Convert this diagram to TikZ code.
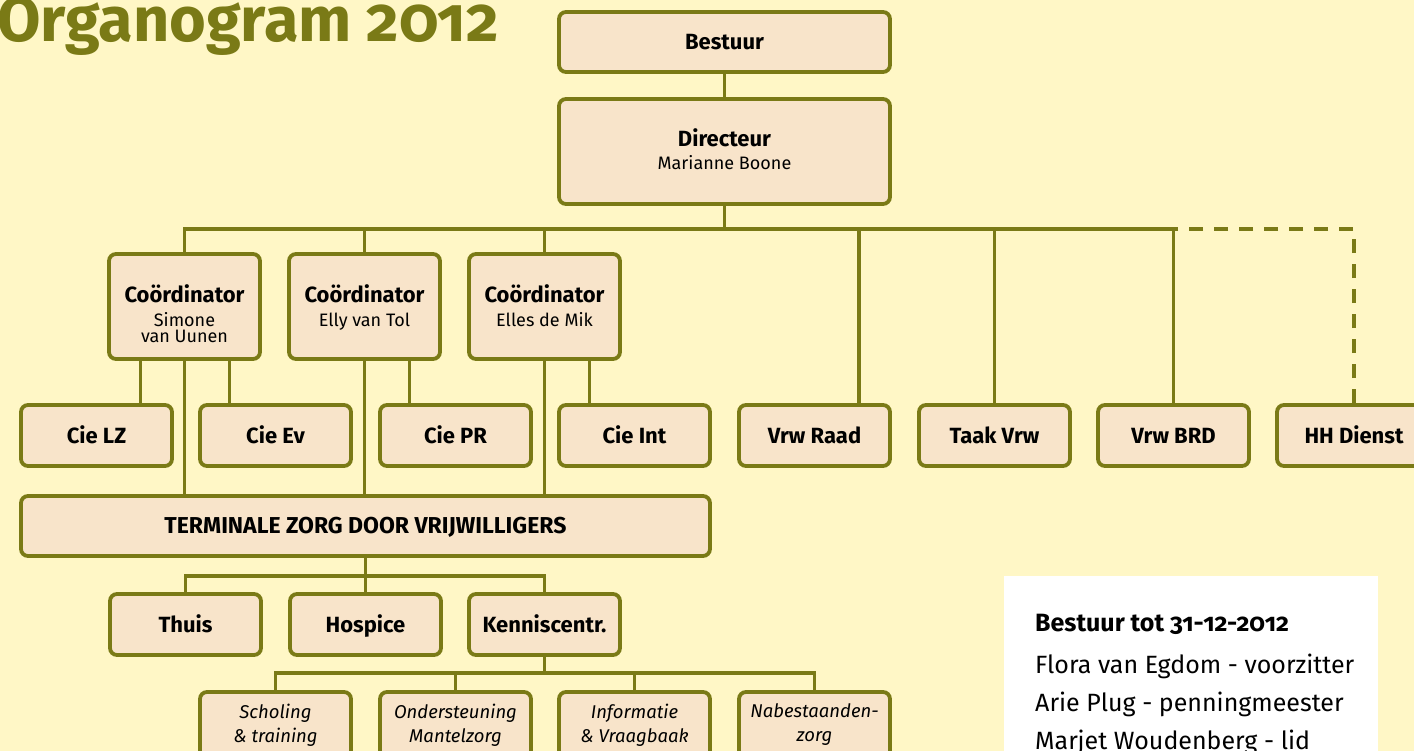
\documentclass[tikz,border=0pt]{standalone}
\usepackage{fontspec}
\setmainfont{Fira Sans}
\definecolor{bg}{HTML}{FFF7C6}
\definecolor{boxfill}{HTML}{F8E4CA}
\definecolor{olive}{HTML}{7A7A16}
\begin{document}
\begin{tikzpicture}[x=1pt,y=-1pt,
  box/.style={draw=olive, fill=boxfill, line width=3.8pt, rounded corners=7pt,
    minimum width=151pt, minimum height=61pt, inner sep=0pt,
    text height=19pt, text depth=4pt,
    font=\bfseries\fontsize{22}{24}\selectfont},
  conn/.style={draw=olive, line width=3.8pt},
  ital/.style={font=\itshape\fontsize{18.5}{24}\selectfont, align=center, inner sep=0pt},
  ctext/.style={anchor=north, align=center, inner sep=0pt, font=\fontsize{18}{16}\selectfont}]
\clip (0,0) rectangle (1414,751);
\fill[bg] (0,0) rectangle (1414,751);

% title
\node[anchor=base west, inner sep=0pt, text=olive, font=\bfseries\fontsize{63}{64}\selectfont\addfontfeatures{Numbers=OldStyle}] (title) at (-3,42) {Organogram 2012};

% top
\node[box, minimum width=331pt, minimum height=60pt] (bestuur) at (724.5,42) {Bestuur};
\node[box, minimum width=331pt, minimum height=105pt] (dir) at (724.5,151.5) {};
\node[anchor=north, align=center, inner sep=0pt, font=\fontsize{18}{23}\selectfont] (dirt) at (724.5,128) {{\bfseries\fontsize{22}{24}\selectfont Directeur}\\Marianne Boone};

% coordinators
\node[box, minimum height=105pt] (c1) at (184.5,306.5) {};
\node[box, minimum height=105pt] (c2) at (364.5,306.5) {};
\node[box, minimum height=105pt] (c3) at (544.5,306.5) {};
\node[ctext] (c1t) at (184.5,284) {{\bfseries\fontsize{22}{24}\selectfont Coördinator}\\[8pt]Simone\\van Uunen};
\node[ctext] (c2t) at (364.5,284) {{\bfseries\fontsize{22}{24}\selectfont Coördinator}\\[8pt]Elly van Tol};
\node[ctext] (c3t) at (544.5,284) {{\bfseries\fontsize{22}{24}\selectfont Coördinator}\\[8pt]Elles de Mik};

% cie row
\node[box] (lz) at (96.5,435.5) {Cie LZ};
\node[box] (ev) at (275.5,435.5) {Cie Ev};
\node[box] (pr) at (455.5,435.5) {Cie PR};
\node[box] (int) at (634.5,435.5) {Cie Int};
\node[box] (raad) at (814.5,435.5) {Vrw Raad};
\node[box] (taak) at (994.5,435.5) {Taak Vrw};
\node[box] (brd) at (1173.5,435.5) {Vrw BRD};
\node[box, minimum width=154pt] (hh) at (1354,435.5) {HH Dienst};

% terminale zorg
\node[box, minimum width=689pt, minimum height=60pt, font=\bfseries\fontsize{23}{24}\selectfont] (tz) at (365.5,526) {TERMINALE ZORG DOOR VRIJWILLIGERS};

\node[box] (thuis) at (185.5,624.5) {Thuis};
\node[box] (hosp) at (365.5,624.5) {Hospice};
\node[box] (kc) at (544.5,624.5) {Kenniscentr.};

% bottom row
\node[box, minimum height=70pt] (sch) at (275.5,727) {};
\node[box, minimum height=70pt] (ond) at (455.5,727) {};
\node[box, minimum height=70pt] (inf) at (634.5,727) {};
\node[box, minimum height=70pt] (nab) at (814.5,727) {};
\node[ital] (scht) at (275.5,725) {Scholing\\\& training};
\node[ital] (ondt) at (455.5,725) {Ondersteuning\\Mantelzorg};
\node[ital] (inft) at (634.5,725) {Informatie\\\& Vraagbaak};
\node[ital] (nabt) at (814.5,725) {Nabestaanden-\\zorg};

% connectors
\coordinate (bus) at (724.5,229);
\coordinate (bus2) at (365.5,576);
\coordinate (bus3) at (544.5,673);
\draw[conn] (bestuur.south) -- (dir.north);
\draw[conn] (dir.south) -- (bus);
\draw[conn] (c1.north) |- (bus);
\draw[conn] (c2.north) |- (bus);
\draw[conn] (c3.north) |- (bus);
\draw[conn] ([xshift=44.5pt]raad.north) |- (bus);
\draw[conn] (taak.north) |- (bus);
\draw[conn] (brd.north) |- (bus);
\draw[conn, dash pattern=on 14pt off 11pt] (hh.north) |- (brd.north |- bus);

\draw[conn] ([xshift=-44pt]c1.south) -- ([xshift=-44pt]c1.south |- lz.north);
\draw[conn] ([xshift=45pt]c1.south) -- ([xshift=45pt]c1.south |- ev.north);
\draw[conn] ([xshift=45pt]c2.south) -- ([xshift=45pt]c2.south |- pr.north);
\draw[conn] ([xshift=45pt]c3.south) -- ([xshift=45pt]c3.south |- int.north);
\draw[conn] (c1.south) -- (c1.south |- tz.north);
\draw[conn] (c2.south) -- (c2.south |- tz.north);
\draw[conn] (c3.south) -- (c3.south |- tz.north);

\draw[conn] (tz.south) -- (bus2);
\draw[conn] (thuis.north) |- (bus2);
\draw[conn] (hosp.north) -- (bus2);
\draw[conn] (kc.north) |- (bus2);

\draw[conn] (kc.south) -- (bus3);
\draw[conn] (sch.north) |- (bus3);
\draw[conn] (ond.north) |- (bus3);
\draw[conn] (inf.north) |- (bus3);
\draw[conn] (nab.north) |- (bus3);

% legend
\node[fill=white, minimum width=374pt, minimum height=200pt, anchor=north west, inner sep=0pt] (legend) at (1004,576) {};
\node[anchor=north west, align=left, inner sep=0pt, font=\fontsize{25}{38}\selectfont\addfontfeatures{Numbers=OldStyle}] (legendt) at (1035,614) {\textbf{Bestuur tot 31-12-2012}\\[4pt]Flora van Egdom - voorzitter\\Arie Plug - penningmeester\\Marjet Woudenberg - lid};
\end{tikzpicture}
\end{document}
